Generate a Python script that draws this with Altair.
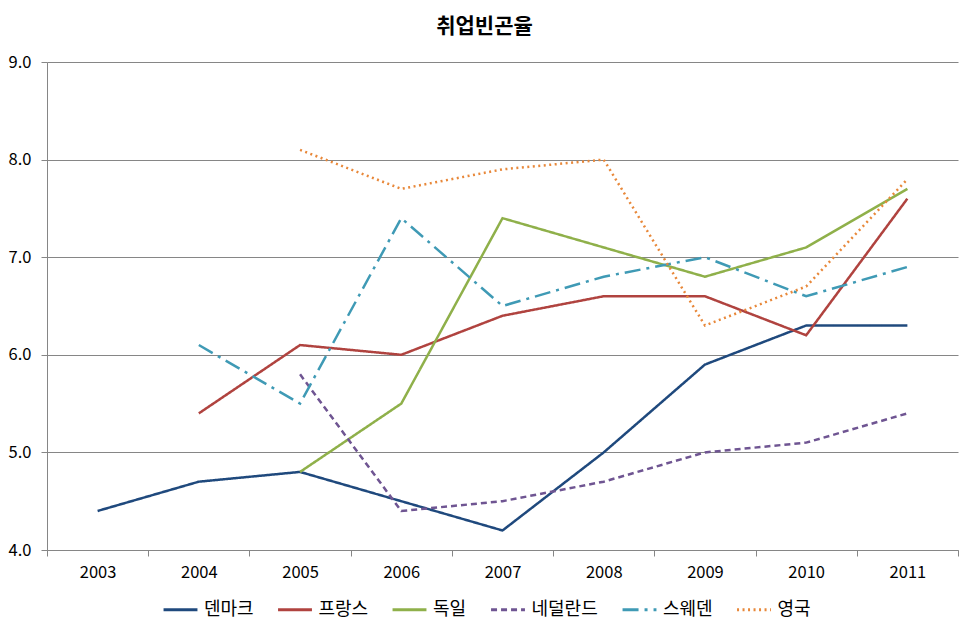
import altair as alt
import pandas as pd

years = ["2003", "2004", "2005", "2006", "2007", "2008", "2009", "2010", "2011"]
countries = ["덴마크", "프랑스", "독일", "네덜란드", "스웨덴", "영국"]
denmark = [4.4, 4.7, 4.8, 4.5, 4.2, 5.0, 5.9, 6.3, 6.3]
france = [None, 5.4, 6.1, 6.0, 6.4, 6.6, 6.6, 6.2, 7.6]
germany = [None, None, 4.8, 5.5, 7.4, 7.1, 6.8, 7.1, 7.7]
netherlands = [None, None, 5.8, 4.4, 4.5, 4.7, 5.0, 5.1, 5.4]
sweden = [None, 6.1, 5.5, 7.4, 6.5, 6.8, 7.0, 6.6, 6.9]
uk = [None, None, 8.1, 7.7, 7.9, 8.0, 6.3, 6.7, 7.8]

colors = ["#1F497D", "#B0433F", "#8FB04A", "#6F5592", "#3F9AB5", "#E8883A"]
dashes = [[1, 0], [1, 0], [1, 0], [6, 4], [16, 6, 3, 6], [2, 3.5]]

series = [denmark, france, germany, netherlands, sweden, uk]
rows = []
for c, vals in zip(countries, series):
    for y, v in zip(years, vals):
        if v is not None:
            rows.append({"year": y, "value": v, "country": c})
df = pd.DataFrame(rows)

font = "Noto Sans CJK KR"
legend = alt.Legend(
    title=None, orient="none", direction="horizontal",
    legendX=115, legendY=529,
    symbolType="stroke", symbolSize=1150, symbolStrokeWidth=3,
    labelFontSize=18, labelFont=font, labelColor="#000000",
    columnPadding=17.5, labelOffset=5,
)

chart = alt.Chart(df).mark_line(strokeWidth=2.5).encode(
    x=alt.X("year:O", sort=years,
            scale=alt.Scale(type="band", paddingInner=0, paddingOuter=0),
            axis=alt.Axis(title=None, labelAngle=0, tickBand="extent",
                          labelFontSize=16.5, labelFont=font, labelColor="#000000",
                          domainColor="#868686", tickColor="#868686", tickSize=6,
                          labelPadding=8, grid=False)),
    y=alt.Y("value:Q",
            scale=alt.Scale(domain=[4, 9], nice=False, zero=False),
            axis=alt.Axis(title=None, values=[4, 5, 6, 7, 8, 9], format=".1f",
                          labelFontSize=16.5, labelFont=font, labelColor="#000000",
                          domainColor="#868686", tickColor="#868686", tickSize=6,
                          gridColor="#868686", labelPadding=10)),
    color=alt.Color("country:N", scale=alt.Scale(domain=countries, range=colors), legend=legend),
    strokeDash=alt.StrokeDash("country:N", scale=alt.Scale(domain=countries, range=dashes), legend=legend),
).properties(
    width=911, height=488,
    title=alt.TitleParams("취업빈곤율", fontSize=21, font=font, fontWeight="bold",
                          color="#000000", offset=17, anchor="middle", dx=-18),
    padding={"left": 0, "top": 8, "right": 0, "bottom": 0},
).configure_view(stroke=None)

chart.save("out.html", embed_options={"renderer": "svg", "actions": False})
